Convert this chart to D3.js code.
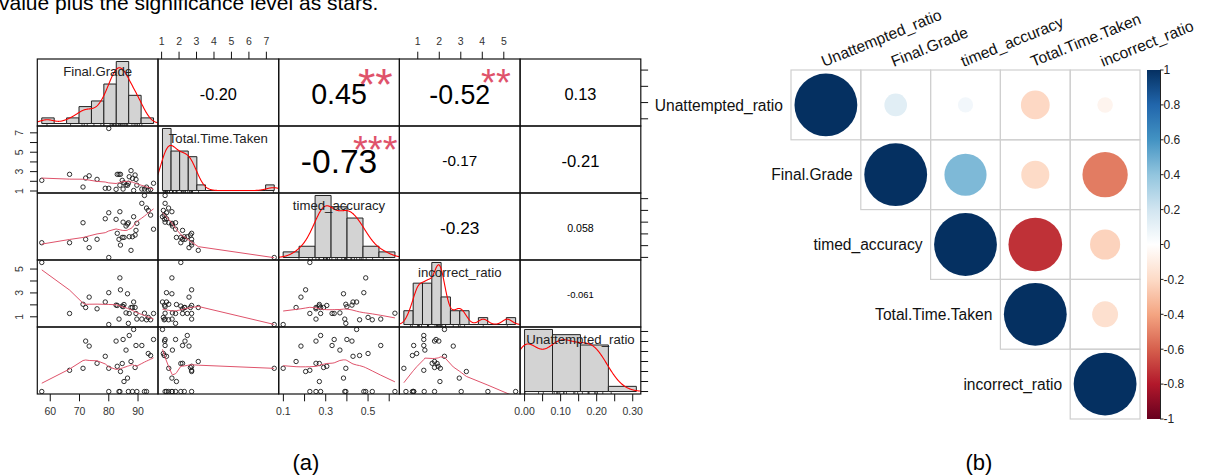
<!DOCTYPE html>
<html>
<head>
<meta charset="utf-8">
<script src="https://cdn.jsdelivr.net/npm/d3@7"></script>
<style>
  html, body { margin: 0; padding: 0; background: #fff; }
  svg { display: block; }
</style>
</head>
<body>
<svg id="fig" width="1207" height="476"></svg>
<script>
// ---------------------------------------------------------------
// Data: one value per student for each of the five measures
// ---------------------------------------------------------------
const variables = ["Final.Grade", "Total.Time.Taken", "timed_accuracy", "incorrect_ratio", "Unattempted_ratio"];

const finalGrade = [57.1, 66.6, 71.2, 72.1, 73.3, 76.0, 78.8, 80.0, 80.0, 82.5, 82.9, 83.5, 83.8, 84.0, 84.6,
  85.2, 85.9, 86.4, 86.7, 87.0, 87.6, 88.1, 88.5, 89.0, 89.3, 89.6, 84.9, 91.3, 92.2, 92.9, 93.5, 94.3, 95.3];
const totalTime = [2.10, 2.72, 1.41, 2.34, 2.57, 2.20, 1.28, 7.45, 1.28, 1.17, 2.72, 2.72, 1.59, 2.72, 2.10,
  1.85, 1.62, 1.59, 1.80, 2.47, 3.10, 2.30, 1.05, 2.65, 2.20, 1.60, 1.20, 1.20, 1.20, 1.40, 1.10, 1.15, 1.80];
const timedAccuracy = [0.225, 0.225, 0.395, 0.254, 0.183, 0.254, 0.429, 0.099, 0.480, 0.424, 0.305, 0.254, 0.489, 0.205, 0.270,
  0.270, 0.367, 0.384, 0.395, 0.276, 0.160, 0.276, 0.446, 0.290, 0.330, 0.390, 0.400, 0.560, 0.627, 0.520, 0.500, 0.460, 0.340];
const incorrectRatio = [5.55, 1.28, 2.05, 1.78, 2.65, 1.67, 2.24, 0.354, 3.02, 1.98, 1.95, 0.81, 4.26, 3.26, 1.90,
  2.03, 1.33, 2.93, 0.45, 1.28, 1.78, 1.78, 2.24, 1.78, 1.28, 0.81, 1.85, 0.81, 1.30, 0.75, 0.95, 0.75, 1.28];
const unattemptedRatio = [0.000, 0.106, 0.116, 0.252, 0.227, 0.141, 0.176, 0.116, 0.000, 0.252, 0.126, 0.000, 0.000, 0.100, 0.140,
  0.050, 0.207, 0.067, 0.000, 0.280, 0.150, 0.000, 0.310, 0.120, 0.230, 0.000, 0.260, 0.230, 0.000, 0.000, 0.190, 0.180, 0.260];

// Histogram break points for each measure
const finalGradeBreaks = [55, 60, 65, 70, 75, 80, 85, 90, 95, 100];
const totalTimeBreaks = [1, 1.5, 2, 2.5, 3, 3.5, 4, 4.5, 5, 5.5, 6, 6.5, 7, 7.5];
const timedAccuracyBreaks = [0, 0.1, 0.2, 0.3, 0.4, 0.5, 0.6, 0.7];
const incorrectRatioBreaks = [0, 0.5, 1, 1.5, 2, 2.5, 3, 3.5, 4, 4.5, 5, 5.5, 6];
const unattemptedRatioBreaks = [0, 0.1, 0.2, 0.3, 0.4];

// Pearson correlations (upper triangle, row by row) and significance stars
const corrPairs = [
  ["Final.Grade", "Total.Time.Taken"], ["Final.Grade", "timed_accuracy"], ["Final.Grade", "incorrect_ratio"], ["Final.Grade", "Unattempted_ratio"],
  ["Total.Time.Taken", "timed_accuracy"], ["Total.Time.Taken", "incorrect_ratio"], ["Total.Time.Taken", "Unattempted_ratio"],
  ["timed_accuracy", "incorrect_ratio"], ["timed_accuracy", "Unattempted_ratio"],
  ["incorrect_ratio", "Unattempted_ratio"]
];
const corrValues = [-0.20, 0.45, -0.52, 0.13, -0.73, -0.17, -0.21, -0.23, 0.058, -0.061];
const corrStars = ["", "**", "**", "", "***", "", "", "", "", ""];

// Axis ticks and their labels
const finalGradeTicks = [60, 70, 80, 90];
const finalGradeTickLabels = ["60", "70", "80", "90"];
const totalTimeTicks = [1, 2, 3, 4, 5, 6, 7];
const totalTimeTopLabels = ["1", "2", "3", "4", "5", "6", "7"];
const totalTimeLeftLabels = ["1", "", "3", "", "5", "", "7"];
const timedAccuracyTicks = [0.1, 0.2, 0.3, 0.4, 0.5, 0.6];
const timedAccuracyTickLabels = ["0.1", "", "0.3", "", "0.5", ""];
const incorrectRatioTicks = [1, 2, 3, 4, 5];
const incorrectRatioTopLabels = ["1", "2", "3", "4", "5"];
const incorrectRatioLeftLabels = ["1", "", "3", "", "5"];
const unattemptedRatioTicks = [0, 0.05, 0.10, 0.15, 0.20, 0.25, 0.30];
const unattemptedRatioTickLabels = ["0.00", "", "0.10", "", "0.20", "", "0.30"];

// Correlation-matrix plot: variable order and colour-bar ticks
const corrplotOrder = ["Unattempted_ratio", "Final.Grade", "timed_accuracy", "Total.Time.Taken", "incorrect_ratio"];
const colorbarTicks = [1, 0.8, 0.6, 0.4, 0.2, 0, -0.2, -0.4, -0.6, -0.8, -1];
const colorbarTickLabels = ["1", "0.8", "0.6", "0.4", "0.2", "0", "-0.2", "-0.4", "-0.6", "-0.8", "-1"];
const rdbuColors = ["#67001F", "#B2182B", "#D6604D", "#F4A582", "#FDDBC7", "#FFFFFF", "#D1E5F0", "#92C5DE", "#4393C3", "#2166AC", "#053061"];

// ---------------------------------------------------------------
// Helpers
// ---------------------------------------------------------------
const FONT = "'Liberation Sans', Arial, Helvetica, sans-serif";
const svg = d3.select("#fig").style("font-family", FONT);

const probe = svg.append("text").attr("x", -2000).attr("y", -2000).style("font-family", FONT);
function textWidth(s, size) {
  probe.attr("font-size", size).text(s);
  return probe.node().getComputedTextLength();
}

// R-style axis range: data range widened by 4% on each side
function widen(r) {
  const d = (r[1] - r[0]) * 0.04;
  return [r[0] - d, r[1] + d];
}

// Gaussian kernel density with Silverman's rule-of-thumb bandwidth
function kernelDensity(values) {
  const s = values.slice().sort(d3.ascending);
  const n = s.length;
  const sd = d3.deviation(s);
  const iqr = d3.quantileSorted(s, 0.75) - d3.quantileSorted(s, 0.25);
  const lo = Math.min(sd, iqr / 1.34) || sd;
  const bw = 0.9 * lo * Math.pow(n, -0.2);
  const from = s[0] - 3 * bw, to = s[n - 1] + 3 * bw;
  const out = [];
  for (let k = 0; k < 512; k++) {
    const t = from + (to - from) * k / 511;
    let sum = 0;
    for (const v of s) { const z = (t - v) / bw; sum += Math.exp(-0.5 * z * z); }
    out.push([t, sum / (n * bw * Math.sqrt(2 * Math.PI))]);
  }
  return out;
}

// Robust locally weighted scatterplot smoothing (Cleveland's LOWESS)
function lowess(xIn, yIn, f = 2 / 3, nsteps = 3) {
  const n = xIn.length;
  const ord = d3.range(n).sort((a, b) => xIn[a] - xIn[b]);
  const x = [0].concat(ord.map(i => xIn[i]));
  const y = [0].concat(ord.map(i => yIn[i]));
  const delta = 0.01 * (x[n] - x[1]);
  const ys = new Array(n + 1).fill(0);
  const rw = new Array(n + 1).fill(1);
  const w = new Array(n + 1).fill(0);
  const ns = Math.max(2, Math.min(n, Math.floor(f * n + 1e-7)));
  const range = x[n] - x[1];

  function lowest(xs, nleft, nright, userw) {
    const h = Math.max(xs - x[nleft], x[nright] - xs);
    const h9 = 0.999 * h, h1 = 0.001 * h;
    let a = 0, j = nleft;
    while (j <= n) {
      w[j] = 0;
      const r = Math.abs(x[j] - xs);
      if (r <= h9) {
        w[j] = r <= h1 ? 1 : Math.pow(1 - Math.pow(r / h, 3), 3);
        if (userw) w[j] *= rw[j];
        a += w[j];
      } else if (x[j] > xs) break;
      j++;
    }
    const nrt = j - 1;
    if (a <= 0) return null;
    for (j = nleft; j <= nrt; j++) w[j] /= a;
    if (h > 0) {
      a = 0;
      for (j = nleft; j <= nrt; j++) a += w[j] * x[j];
      let b = xs - a, c = 0;
      for (j = nleft; j <= nrt; j++) c += w[j] * (x[j] - a) * (x[j] - a);
      if (Math.sqrt(c) > 0.001 * range) {
        b /= c;
        for (j = nleft; j <= nrt; j++) w[j] *= (b * (x[j] - a) + 1);
      }
    }
    let v = 0;
    for (j = nleft; j <= nrt; j++) v += w[j] * y[j];
    return v;
  }

  let iter = 1;
  while (iter <= nsteps + 1) {
    let nleft = 1, nright = ns, last = 0, i = 1;
    for (;;) {
      if (nright < n) {
        const d1 = x[i] - x[nleft], d2 = x[nright + 1] - x[i];
        if (d1 > d2) { nleft++; nright++; continue; }
      }
      const fit = lowest(x[i], nleft, nright, iter > 1);
      ys[i] = fit === null ? y[i] : fit;
      if (last < i - 1) {
        const denom = x[i] - x[last];
        for (let j = last + 1; j < i; j++) {
          const alpha = (x[j] - x[last]) / denom;
          ys[j] = alpha * ys[i] + (1 - alpha) * ys[last];
        }
      }
      last = i;
      const cut = x[last] + delta;
      for (i = last + 1; i <= n; i++) {
        if (x[i] > cut) break;
        if (x[i] === x[last]) { ys[i] = ys[last]; last = i; }
      }
      i = Math.max(last + 1, i - 1);
      if (last >= n) break;
    }
    const res = [];
    let sc = 0;
    for (let k = 1; k <= n; k++) { res[k] = y[k] - ys[k]; sc += Math.abs(res[k]); }
    sc /= n;
    if (iter > nsteps) break;
    const absr = res.slice(1).map(Math.abs).sort(d3.ascending);
    const m1 = Math.floor(n / 2);
    const cmad = n % 2 === 0 ? 3 * (absr[m1] + absr[n - m1 - 1]) : 6 * absr[m1];
    if (cmad < 1e-7 * sc) break;
    const c9 = 0.999 * cmad, c1 = 0.001 * cmad;
    for (let k = 1; k <= n; k++) {
      const r = Math.abs(res[k]);
      rw[k] = r <= c1 ? 1 : (r <= c9 ? Math.pow(1 - Math.pow(r / cmad, 2), 2) : 0);
    }
    iter++;
  }
  return d3.range(1, n + 1).map(k => [x[k], ys[k]]);
}

// ---------------------------------------------------------------
// (a) Scatter-plot matrix with histograms and correlations
// ---------------------------------------------------------------
const series = [finalGrade, totalTime, timedAccuracy, incorrectRatio, unattemptedRatio];
const breaks = [finalGradeBreaks, totalTimeBreaks, timedAccuracyBreaks, incorrectRatioBreaks, unattemptedRatioBreaks];
const nv = series.length;
const A = { x0: 37.3, y0: 59, w: 120.7, h: 67 };
const px = j => A.x0 + j * A.w;
const py = i => A.y0 + i * A.h;

const xScale = series.map((s, j) => d3.scaleLinear().domain(widen(d3.extent(s))).range([px(j), px(j + 1)]));
const yScale = series.map((s, i) => d3.scaleLinear().domain(widen(d3.extent(s))).range([py(i + 1), py(i)]));

const defs = svg.append("defs");
const gA = svg.append("g").attr("class", "pairs");

function clipFor(i, j) {
  const id = `clip-${i}-${j}`;
  defs.append("clipPath").attr("id", id)
    .append("rect").attr("x", px(j)).attr("y", py(i)).attr("width", A.w).attr("height", A.h);
  return `url(#${id})`;
}

function corrIndex(a, b) {
  return corrPairs.findIndex(p => (p[0] === a && p[1] === b) || (p[0] === b && p[1] === a));
}

// diagonal label size: longest name fills 90% of a panel
const labelSize = 0.9 * A.w * 100 / d3.max(variables, v => textWidth(v, 100));

for (let i = 0; i < nv; i++) {
  for (let j = 0; j < nv; j++) {
    const cell = gA.append("g").attr("clip-path", clipFor(i, j));
    if (i === j) {
      // histogram (own coordinate frame), density curve and rug
      const b = breaks[i];
      const vals = series[i];
      const counts = b.slice(0, -1).map((lo, k) =>
        vals.filter(v => (v > lo && v <= b[k + 1]) || (k === 0 && v === lo)).length);
      const dens = counts.map((c, k) => c / (vals.length * (b[k + 1] - b[k])));
      const hx = d3.scaleLinear().domain(widen([b[0], b[b.length - 1]])).range([px(j), px(j + 1)]);
      const hy = d3.scaleLinear().domain(widen([0, d3.max(dens)])).range([py(i + 1), py(i)]);
      cell.selectAll("path.bar").data(dens).join("path").attr("class", "bar")
        .attr("d", (d, k) => `M${hx(b[k])},${hy(0)}V${hy(d)}H${hx(b[k + 1])}V${hy(0)}Z`)
        .attr("fill", "#D3D3D3").attr("stroke", "#222").attr("stroke-width", 1);
      cell.append("path").datum(kernelDensity(vals))
        .attr("d", d3.line().x(d => hx(d[0])).y(d => hy(d[1])))
        .attr("fill", "none").attr("stroke", "#FF0000").attr("stroke-width", 1.1);
      cell.selectAll("line.rug").data(vals).join("line").attr("class", "rug")
        .attr("x1", d => hx(d)).attr("x2", d => hx(d))
        .attr("y1", py(i + 1)).attr("y2", py(i + 1) - 0.03 * A.h - 0.5)
        .attr("stroke", "#222").attr("stroke-width", 0.8);
      cell.append("text")
        .attr("x", px(j) + A.w / 2)
        .attr("y", py(i + 1) - 0.8333 * A.h + 0.358 * labelSize + 1.5)
        .attr("text-anchor", "middle").attr("font-size", labelSize).attr("fill", "#222")
        .text(variables[i]);
    } else if (j > i) {
      // correlation coefficient scaled by its magnitude, plus stars
      const k = corrIndex(variables[i], variables[j]);
      const r = corrValues[k];
      const txt = Math.abs(r) < 0.1 ? r.toFixed(3) : r.toFixed(2);
      const cex = 0.8 * A.w * 100 / textWidth(txt, 100);
      const fs = cex * (Math.abs(r) + 0.3) / 1.3;
      cell.append("text")
        .attr("x", px(j) + A.w / 2)
        .attr("y", py(i) + A.h / 2 + 0.358 * fs + 1.5)
        .attr("text-anchor", "middle").attr("font-size", fs).attr("fill", "#000")
        .text(txt);
      if (corrStars[k]) {
        const sfs = cex * 0.9;
        cell.append("text")
          .attr("x", px(j) + 0.8 * A.w)
          .attr("y", py(i + 1) - 0.8 * A.h + 0.58 * sfs + 1.5)
          .attr("text-anchor", "middle").attr("font-size", sfs).attr("fill", "#DF536B")
          .text(corrStars[k]);
      }
    } else {
      // scatter with LOWESS smooth
      const xs = series[j], ys = series[i];
      cell.selectAll("circle").data(xs).join("circle")
        .attr("cx", d => xScale[j](d)).attr("cy", (d, k) => yScale[i](ys[k]))
        .attr("r", 2.2).attr("fill", "none").attr("stroke", "#1a1a1a").attr("stroke-width", 0.9);
      cell.append("path").datum(lowess(xs, ys))
        .attr("d", d3.line().x(d => xScale[j](d[0])).y(d => yScale[i](d[1])))
        .attr("fill", "none").attr("stroke", "#DF536B").attr("stroke-width", 1);
    }
  }
}

// panel frames
for (let i = 0; i < nv; i++) for (let j = 0; j < nv; j++) {
  gA.append("rect").attr("x", px(j)).attr("y", py(i)).attr("width", A.w).attr("height", A.h)
    .attr("fill", "none").attr("stroke", "#111").attr("stroke-width", 1.2);
}

// outer axes (alternating sides, as in a pairs plot)
const tickSets = [
  { ticks: finalGradeTicks, labels: finalGradeTickLabels },
  { ticks: totalTimeTicks, top: totalTimeTopLabels, left: totalTimeLeftLabels },
  { ticks: timedAccuracyTicks, labels: timedAccuracyTickLabels },
  { ticks: incorrectRatioTicks, top: incorrectRatioTopLabels, left: incorrectRatioLeftLabels },
  { ticks: unattemptedRatioTicks, labels: unattemptedRatioTickLabels }
];
const TICK = 7.3, AXFS = 10.5, AXCOL = "#333";
const gAx = gA.append("g").attr("stroke", "#111").attr("stroke-width", 1);

for (let j = 0; j < nv; j++) {
  const ts = tickSets[j];
  if (j % 2 === 1) {
    // top axis
    ts.ticks.forEach((t, k) => {
      const x = xScale[j](t);
      gAx.append("line").attr("x1", x).attr("x2", x).attr("y1", py(0)).attr("y2", py(0) - TICK);
      gA.append("text").attr("x", x).attr("y", py(0) - 14).attr("text-anchor", "middle")
        .attr("font-size", AXFS).attr("fill", AXCOL).text(ts.top[k]);
    });
  } else {
    // bottom axis
    ts.ticks.forEach((t, k) => {
      const x = xScale[j](t);
      gAx.append("line").attr("x1", x).attr("x2", x).attr("y1", py(nv)).attr("y2", py(nv) + TICK);
      gA.append("text").attr("x", x).attr("y", py(nv) + 21).attr("text-anchor", "middle")
        .attr("font-size", AXFS).attr("fill", AXCOL).text(ts.labels[k]);
    });
  }
}
for (let i = 0; i < nv; i++) {
  const ts = tickSets[i];
  if (i % 2 === 1) {
    // left axis with rotated labels
    ts.ticks.forEach((t, k) => {
      const y = yScale[i](t);
      gAx.append("line").attr("x1", px(0)).attr("x2", px(0) - TICK).attr("y1", y).attr("y2", y);
      if (ts.left[k]) {
        gA.append("text").attr("transform", `translate(${px(0) - 14},${y}) rotate(-90)`)
          .attr("text-anchor", "middle").attr("font-size", AXFS).attr("fill", AXCOL).text(ts.left[k]);
      }
    });
  } else {
    // right axis: tick marks only
    ts.ticks.forEach(t => {
      const y = yScale[i](t);
      gAx.append("line").attr("x1", px(nv)).attr("x2", px(nv) + TICK).attr("y1", y).attr("y2", y);
    });
  }
}

// ---------------------------------------------------------------
// (b) Correlation matrix, upper triangle, circle area ~ |r|
// ---------------------------------------------------------------
const B = { x0: 791, y0: 70, cell: 69.8 };
const corrColor = d3.scaleLinear()
  .domain(rdbuColors.map((c, k) => -1 + 2 * k / (rdbuColors.length - 1)))
  .range(rdbuColors);
const gB = svg.append("g").attr("class", "corrplot");

function corrOf(a, b) {
  if (a === b) return 1;
  return corrValues[corrIndex(a, b)];
}

const cells = [];
corrplotOrder.forEach((a, i) => corrplotOrder.forEach((b, j) => {
  if (j >= i) cells.push({ i, j, r: corrOf(a, b) });
}));

gB.selectAll("rect.grid").data(cells).join("rect").attr("class", "grid")
  .attr("x", d => B.x0 + d.j * B.cell).attr("y", d => B.y0 + d.i * B.cell)
  .attr("width", B.cell).attr("height", B.cell)
  .attr("fill", "none").attr("stroke", "#CFCFCF").attr("stroke-width", 1.2);

gB.selectAll("circle").data(cells).join("circle")
  .attr("cx", d => B.x0 + (d.j + 0.5) * B.cell).attr("cy", d => B.y0 + (d.i + 0.5) * B.cell)
  .attr("r", d => 0.45 * B.cell * Math.sqrt(Math.abs(d.r)))
  .attr("fill", d => corrColor(d.r));

const LBL = 15.6;
// row labels
gB.selectAll("text.row").data(corrplotOrder).join("text").attr("class", "row")
  .attr("x", (d, i) => B.x0 + i * B.cell - 8)
  .attr("y", (d, i) => B.y0 + (i + 0.5) * B.cell + 5.6)
  .attr("text-anchor", "end").attr("font-size", LBL).attr("fill", "#111").text(d => d);

// column labels, slanted
gB.selectAll("text.col").data(corrplotOrder).join("text").attr("class", "col")
  .attr("transform", (d, j) => `translate(${B.x0 + (j + 0.5) * B.cell - 2},${B.y0 - 3}) rotate(-22)`)
  .attr("text-anchor", "start").attr("font-size", LBL).attr("fill", "#111").text(d => d);

// colour bar
const CB = { x: 1147, w: 13, y0: 70, y1: 419 };
const grad = defs.append("linearGradient").attr("id", "cbgrad")
  .attr("x1", 0).attr("y1", 1).attr("x2", 0).attr("y2", 0);
rdbuColors.forEach((c, k) => grad.append("stop")
  .attr("offset", k / (rdbuColors.length - 1)).attr("stop-color", c));
gB.append("rect").attr("x", CB.x).attr("y", CB.y0).attr("width", CB.w).attr("height", CB.y1 - CB.y0)
  .attr("fill", "url(#cbgrad)");
const cbScale = d3.scaleLinear().domain([-1, 1]).range([CB.y1, CB.y0]);
gB.append("line").attr("x1", CB.x + CB.w + 0.5).attr("x2", CB.x + CB.w + 0.5)
  .attr("y1", CB.y0).attr("y2", CB.y1).attr("stroke", "#222").attr("stroke-width", 1);
colorbarTicks.forEach((t, k) => {
  const y = cbScale(t);
  gB.append("line").attr("x1", CB.x + CB.w).attr("x2", CB.x + CB.w + 3.5)
    .attr("y1", y).attr("y2", y).attr("stroke", "#222").attr("stroke-width", 1);
  gB.append("text").attr("x", CB.x + CB.w + 3.5).attr("y", y + 4.3)
    .attr("font-size", 12).attr("fill", "#222").text(colorbarTickLabels[k]);
});

// ---------------------------------------------------------------
// Captions
// ---------------------------------------------------------------
svg.append("text").attr("x", -1).attr("y", 10).attr("font-size", 21).attr("fill", "#000")
  .text("value plus the significance level as stars.");
svg.append("text").attr("x", 306).attr("y", 470).attr("text-anchor", "middle")
  .attr("font-size", 22).attr("fill", "#000").text("(a)");
svg.append("text").attr("x", 979).attr("y", 470).attr("text-anchor", "middle")
  .attr("font-size", 22).attr("fill", "#000").text("(b)");

probe.remove();
</script>
</body>
</html>
